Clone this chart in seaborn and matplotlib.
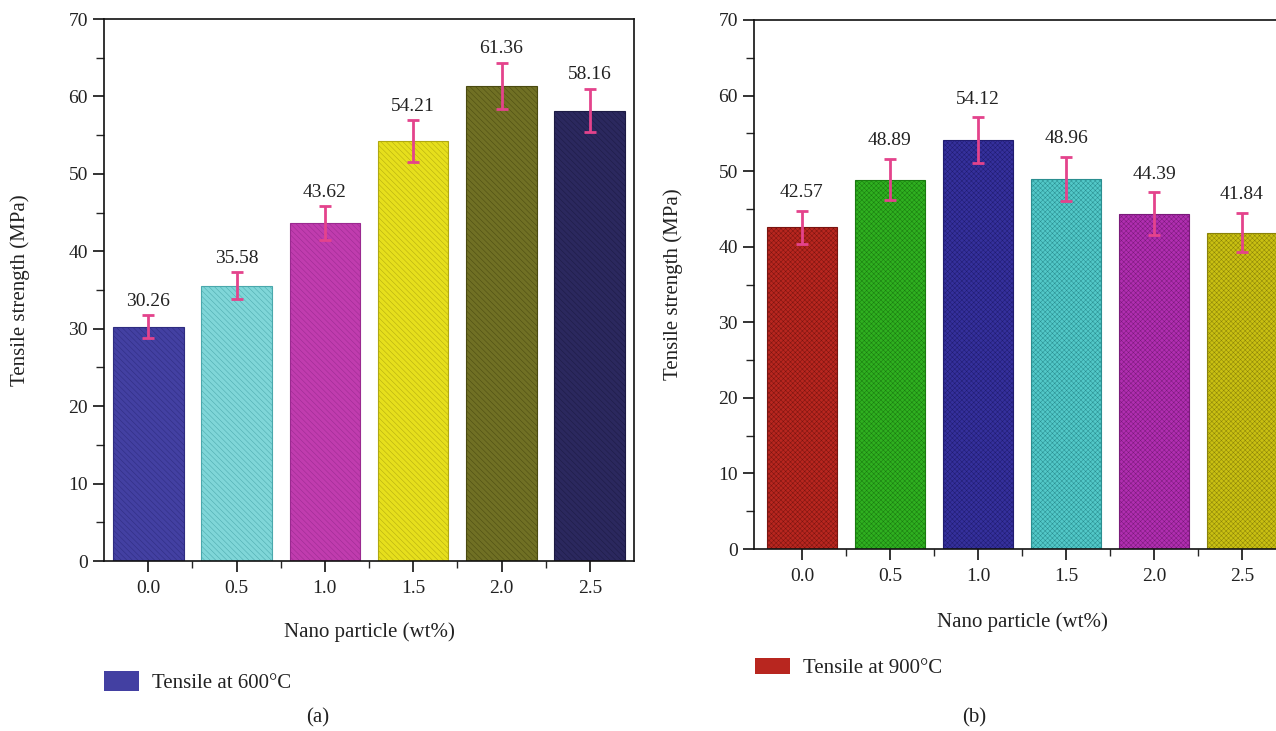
import matplotlib
matplotlib.use("Agg")
import matplotlib.pyplot as plt
import matplotlib as mpl
from matplotlib.patches import Patch
from matplotlib.ticker import MultipleLocator
import seaborn as sns
import pandas as pd

# ---- data ----
categories = ["0.0", "0.5", "1.0", "1.5", "2.0", "2.5"]
tensile_600 = [30.26, 35.58, 43.62, 54.21, 61.36, 58.16]
err_600 = [1.45, 1.7, 2.2, 2.7, 3.0, 2.8]
tensile_900 = [42.57, 48.89, 54.12, 48.96, 44.39, 41.84]
err_900 = [2.2, 2.7, 3.0, 2.9, 2.8, 2.6]
colors_600 = ["#4340a2", "#7fd6d8", "#c03cae", "#e6df1c", "#707024", "#2b285e"]
edges_600 = ["#2e2c80", "#4aa8ac", "#9a2a90", "#b0a810", "#4a4a10", "#1c1a44"]
colors_900 = ["#b8261f", "#2fb020", "#35309c", "#52c8c8", "#b02eb0", "#c9c012"]
edges_900 = ["#7a1410", "#1a7a10", "#201c70", "#2a8e90", "#7a1a7a", "#8a8208"]
legend_600 = "Tensile at 600°C"
legend_900 = "Tensile at 900°C"
xlabel = "Nano particle (wt%)"
ylabel = "Tensile strength (MPa)"

sns.set_theme(style="ticks")
plt.rcParams["font.family"] = ["Liberation Serif", "DejaVu Serif"]
plt.rcParams["hatch.linewidth"] = 0.35
TXT = "#222222"
FS = 14
FS_LAB = 15

fig = plt.figure(figsize=(12.76, 7.31), dpi=100)
W, H = 1276, 731

def axpos(l, r, b, t):
    return [l / W, 1 - b / H, (r - l) / W, (b - t) / H]

ax1 = fig.add_axes(axpos(104, 634, 561, 19))
ax2 = fig.add_axes(axpos(754, 1290, 549, 20))

def draw(ax, vals, errs, cols, edges, hatch, xlim, off):
    df = pd.DataFrame({"x": categories, "y": vals})
    sns.barplot(data=df, x="x", y="y", hue="x", palette=cols, legend=False,
                width=0.8, ax=ax, saturation=1)
    for p, ec in zip(ax.patches, edges):
        p.set_edgecolor(ec)
        p.set_linewidth(0.8)
        p.set_hatch(hatch)
    xs = range(len(categories))
    ax.errorbar(xs, vals, yerr=errs, fmt="none", ecolor="#e4438c",
                elinewidth=2, capsize=4, capthick=2, zorder=5)
    for x, v, e in zip(xs, vals, errs):
        ax.annotate(f"{v:.2f}", (x, v + e), xytext=(0, off),
                    textcoords="offset points", ha="center", va="bottom",
                    fontsize=FS, color=TXT)
    ax.set_xlim(*xlim)
    ax.set_ylim(0, 70)
    ax.yaxis.set_major_locator(MultipleLocator(10))
    ax.yaxis.set_minor_locator(MultipleLocator(5))
    ax.set_xticks([i + 0.5 for i in range(len(categories) - 1)], minor=True)
    ax.tick_params(axis="both", which="major", direction="out", length=8,
                   width=1.2, labelsize=FS, colors="#111111", labelcolor=TXT)
    ax.tick_params(axis="y", which="minor", direction="out", length=6, width=1.0)
    ax.tick_params(axis="x", which="minor", direction="out", length=5, width=1.0)
    ax.tick_params(axis="x", pad=6)
    for s in ["left", "bottom", "top", "right"]:
        ax.spines[s].set_visible(True)
        ax.spines[s].set_linewidth(1.2)
        ax.spines[s].set_color("#111111")
    ax.set_xlabel(xlabel, fontsize=FS_LAB, color=TXT)
    ax.set_ylabel(ylabel, fontsize=FS_LAB, color=TXT)

draw(ax1, tensile_600, err_600, colors_600, edges_600, "\\\\\\\\\\\\", (-0.5, 5.5), 4)
draw(ax2, tensile_900, err_900, colors_900, edges_900, "xxxxxxx", (-0.545, 5.545), 7)

# label positions
ax1.yaxis.set_label_coords((20 - 104) / (634 - 104), 0.5)
ax1.xaxis.set_label_coords(0.5, -(632 - 561) / (561 - 19))
ax2.yaxis.set_label_coords((673 - 754) / (1290 - 754), 0.5)
ax2.xaxis.set_label_coords(0.5, -(622 - 549) / (549 - 20))
for ax in (ax1, ax2):
    ax.xaxis.label.set_va("center")
    ax.yaxis.label.set_va("center")

# legends
ax1.legend(handles=[Patch(facecolor=colors_600[0], edgecolor="none", label=legend_600)],
           loc="center left", bbox_to_anchor=(104 / W, 1 - 682 / H),
           bbox_transform=fig.transFigure, frameon=False, fontsize=FS_LAB,
           handlelength=1.7, handleheight=1.1, handletextpad=0.6,
           borderpad=0, borderaxespad=0, labelcolor=TXT)
ax2.legend(handles=[Patch(facecolor=colors_900[0], edgecolor="none", label=legend_900)],
           loc="center left", bbox_to_anchor=(755 / W, 1 - 668 / H),
           bbox_transform=fig.transFigure, frameon=False, fontsize=FS_LAB,
           handlelength=1.7, handleheight=0.8, handletextpad=0.6,
           borderpad=0, borderaxespad=0, labelcolor=TXT)

fig.text(318 / W, 1 - 718 / H, "(a)", ha="center", va="center", fontsize=FS_LAB, color=TXT)
fig.text(974 / W, 1 - 718 / H, "(b)", ha="center", va="center", fontsize=FS_LAB, color=TXT)

fig.savefig("out.png", dpi=100)
